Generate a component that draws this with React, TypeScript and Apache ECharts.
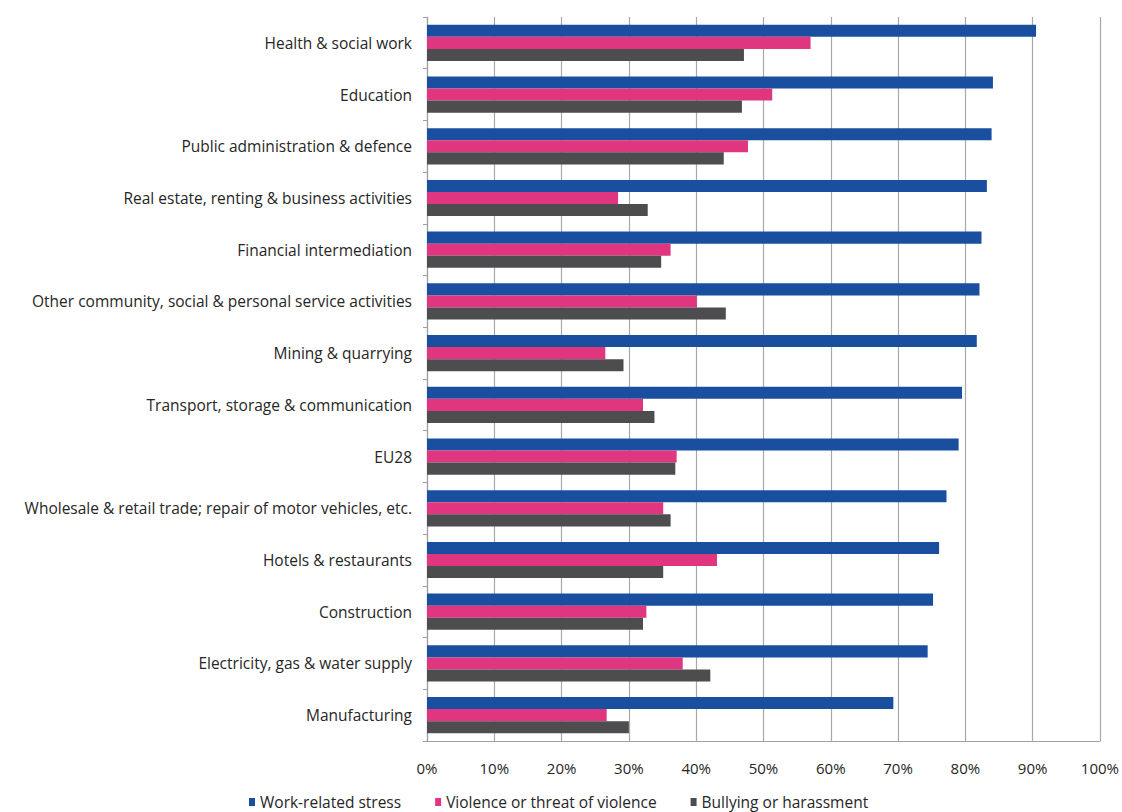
import React, { useEffect, useRef } from "react";
import * as echarts from "echarts";

const categories = [
  "Health & social work",
  "Education",
  "Public administration & defence",
  "Real estate, renting & business activities",
  "Financial intermediation",
  "Other community, social & personal service activities",
  "Mining & quarrying",
  "Transport, storage & communication",
  "EU28",
  "Wholesale & retail trade; repair of motor vehicles, etc.",
  "Hotels & restaurants",
  "Construction",
  "Electricity, gas & water supply",
  "Manufacturing",
];

const workStress = [90.5, 84.1, 83.9, 83.2, 82.4, 82.1, 81.7, 79.5, 79.0, 77.2, 76.1, 75.2, 74.4, 69.3];
const violence = [57.0, 51.3, 47.7, 28.4, 36.2, 40.1, 26.5, 32.1, 37.1, 35.1, 43.1, 32.6, 38.0, 26.7];
const bullying = [47.1, 46.8, 44.1, 32.8, 34.8, 44.4, 29.2, 33.8, 36.9, 36.2, 35.1, 32.1, 42.1, 30.0];

const seriesNames = ["Work-related stress", "Violence or threat of violence", "Bullying or harassment"];
const colors = ["#1a4fa0", "#e0357f", "#4d4d4f"];

export default function App() {
  const ref = useRef<HTMLDivElement>(null);
  useEffect(() => {
    if (!ref.current) return;
    const chart = echarts.init(ref.current, null, { renderer: "svg" });
    const font = "'Open Sans', 'Noto Sans', sans-serif";
    const dataSets = [workStress, violence, bullying];
    chart.setOption({
      animation: false,
      backgroundColor: "#ffffff",
      textStyle: { fontFamily: font },
      grid: { left: 427, right: 19, top: 17, bottom: 71, containLabel: false },
      legend: {
        bottom: 0,
        left: 244,
        padding: [5, 5, 2, 5],
        itemWidth: 6,
        itemHeight: 8,
        itemGap: 34,
        icon: "rect",
        textStyle: { fontSize: 15.5, color: "#262626", fontFamily: font },
        data: seriesNames,
      },
      xAxis: {
        type: "value",
        min: 0,
        max: 100,
        interval: 10,
        axisLabel: {
          formatter: "{value}%",
          fontSize: 15,
          color: "#262626",
          margin: 19,
          fontFamily: font,
        },
        axisLine: { show: true, lineStyle: { color: "#a0a0a0", width: 1 } },
        axisTick: { show: false },
        splitLine: { show: true, lineStyle: { color: "#a8a8a8", width: 1.2 } },
      },
      yAxis: {
        type: "category",
        inverse: true,
        data: categories,
        axisLabel: { fontSize: 15.5, color: "#262626", margin: 15, fontFamily: font },
        axisLine: { show: true, lineStyle: { color: "#a0a0a0", width: 1.2 } },
        axisTick: { show: true, length: 4, lineStyle: { color: "#a0a0a0" } },
      },
      series: dataSets.map((d, i) => ({
        name: seriesNames[i],
        type: "bar",
        data: d,
        barGap: "0%",
        barCategoryGap: "30%",
        itemStyle: { color: colors[i] },
      })),
    });
    return () => chart.dispose();
  }, []);
  return (
    <div
      ref={ref}
      style={{ position: "fixed", left: 0, top: 0, width: 1122, height: 812 }}
    />
  );
}
